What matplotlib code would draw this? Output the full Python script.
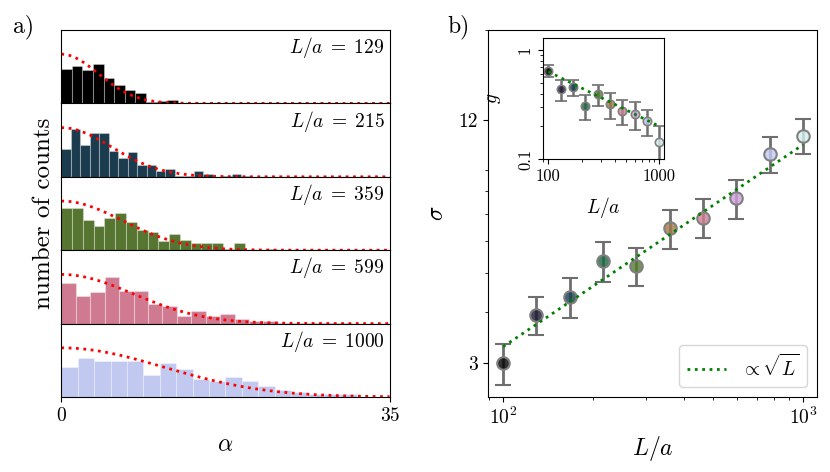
import numpy as np
import matplotlib
matplotlib.use("Agg")
import matplotlib.pyplot as plt
from matplotlib.ticker import NullFormatter

plt.rcParams["font.family"] = "serif"
plt.rcParams["font.serif"] = ["cmr10", "DejaVu Serif"]
plt.rcParams["mathtext.fontset"] = "cm"
plt.rcParams["axes.formatter.use_mathtext"] = True
plt.rcParams["axes.unicode_minus"] = False

# --- right panel data ---
L_vals = np.array([100, 129, 167, 215, 278, 359, 464, 599, 774, 1000])
sigma = np.array([3.00, 3.94, 4.37, 5.36, 5.20, 6.47, 6.87, 7.66, 9.85, 10.95])
sigma_err = np.array([0.35, 0.42, 0.49, 0.60, 0.56, 0.72, 0.76, 0.85, 1.00, 1.10])
g_vals = np.array([0.647, 0.436, 0.456, 0.307, 0.393, 0.318, 0.277, 0.258, 0.224, 0.145])
g_err = np.array([0.085, 0.097, 0.080, 0.078, 0.083, 0.085, 0.072, 0.073, 0.060, 0.055])
sigma_coef = 0.329   # sigma ~ c * sqrt(L)
g_coef = 6.34        # g ~ c / sqrt(L)

# --- left panel histograms (density per bin, bins start at 0) ---
hist_L = [129, 215, 359, 599, 1000]
hist_sigma = [3.94, 5.36, 6.47, 7.66, 10.95]
hist_width = [1.13, 1.01, 1.15, 1.54, 1.75]
hist_129 = [0.141, 0.156, 0.136, 0.161, 0.106, 0.074, 0.054, 0.044, 0.005, 0.008, 0.015]
hist_215 = [0.085, 0.144, 0.095, 0.133, 0.133, 0.079, 0.057, 0.074, 0.036, 0.036,
            0.017, 0.025, 0.003, 0.003, 0.019, 0.008, 0.0, 0.002, 0.008, 0.002]
hist_359 = [0.107, 0.107, 0.075, 0.060, 0.080, 0.093, 0.070, 0.050, 0.045, 0.023,
            0.041, 0.026, 0.017, 0.017, 0.017, 0.003, 0.017, 0.0, 0.0, 0.002]
hist_599 = [0.087, 0.059, 0.066, 0.098, 0.069, 0.069, 0.041, 0.037, 0.016, 0.026,
            0.016, 0.021, 0.009, 0.005, 0.005, 0.001, 0.002, 0.002, 0.002, 0.002]
hist_1000 = [0.045, 0.058, 0.054, 0.054, 0.054, 0.033, 0.051, 0.042, 0.026, 0.023,
             0.030, 0.024, 0.017, 0.011, 0.007, 0.005, 0.005, 0.005]
hist_counts = [hist_129, hist_215, hist_359, hist_599, hist_1000]
hist_colors = ["#000000", "#1b3b4e", "#567530", "#d07a92", "#c1c9f0"]

fig = plt.figure(figsize=(8.3, 4.72), dpi=100)

# ---------- a) histograms ----------
left, width = 61.3 / 830, 328.2 / 830
bottom, top = 1 - 397 / 472, 1 - 30 / 472
h = (top - bottom) / 5
alpha_grid = np.linspace(0, 35, 300)
for i, (Lh, s, w, counts, c) in enumerate(zip(hist_L, hist_sigma, hist_width, hist_counts, hist_colors)):
    ax = fig.add_axes([left, top - (i + 1) * h, width, h])
    edges = np.arange(len(counts)) * w
    ax.bar(edges, counts, width=w, align="edge", color=c,
           edgecolor=(1, 1, 1, 0.3), linewidth=0.8)
    peak = 2 / (s * np.sqrt(2 * np.pi))
    ax.plot(alpha_grid, peak * np.exp(-alpha_grid**2 / (2 * s**2)),
            color="red", linestyle=":", linewidth=2)
    ax.set_xlim(0, 35)
    ax.set_ylim(0, peak / 0.67)
    ax.set_yticks([])
    ax.text(0.985, 0.93, rf"$L/a \;=\; {Lh}$", transform=ax.transAxes,
            ha="right", va="top", fontsize=14)
    if i < 4:
        ax.tick_params(axis="x", bottom=False, labelbottom=False)
    else:
        ax.set_xticks([0, 35])
        ax.set_xticklabels(["0", "35"])
        ax.tick_params(axis="x", labelsize=14)
        ax.set_xlabel(r"$\alpha$", fontsize=17, labelpad=7)

fig.text(44 / 830, 1 - 213.5 / 472, "number of counts", rotation=90,
         ha="center", va="center", fontsize=18)
fig.text(13 / 830, 1 - 32 / 472, "a)", fontsize=17, va="baseline")
fig.text(447 / 830, 1 - 32 / 472, "b)", fontsize=17, va="baseline")

# ---------- b) sigma vs L ----------
colors = plt.cm.cubehelix(np.linspace(0, 0.9, len(L_vals)))
axm = fig.add_axes([488 / 830, bottom, 329 / 830, top - bottom])
axm.set_xscale("log")
axm.set_yscale("log")
axm.plot(L_vals, sigma_coef * np.sqrt(L_vals), color="green", linestyle=":",
         linewidth=2, label=r"$\propto \sqrt{L}$", zorder=3)
for L, s, e, c in zip(L_vals, sigma, sigma_err, colors):
    fc = (c[0], c[1], c[2], 0.8)
    axm.errorbar(L, s, yerr=e, fmt="o", ms=9, mfc=fc, mec="#808080", mew=1.5,
                 ecolor="#6e6e6e", elinewidth=2, capsize=6, capthick=2, zorder=2)
axm.set_xlim(89, 1113)
axm.set_ylim(2.47, 20)
axm.set_yticks([3, 12])
axm.set_yticklabels(["3", "12"])
axm.yaxis.set_minor_formatter(NullFormatter())
axm.xaxis.set_minor_formatter(NullFormatter())
axm.tick_params(labelsize=14)
axm.set_xlabel(r"$L/a$", fontsize=17, labelpad=4)
axm.set_ylabel(r"$\sigma$", fontsize=17, labelpad=8)
axm.legend(loc="lower right", fontsize=14, handlelength=2.0)

# ---------- inset g vs L ----------
axi = fig.add_axes([542.7 / 830, 1 - 159.3 / 472, 121.3 / 830, 121 / 472])
axi.set_xscale("log")
axi.set_yscale("log")
axi.plot(L_vals, g_coef / np.sqrt(L_vals), color="green", linestyle=":",
         linewidth=2, zorder=3)
for L, gv, e, c in zip(L_vals, g_vals, g_err, colors):
    fc = (c[0], c[1], c[2], 0.8)
    axi.errorbar(L, gv, yerr=e, fmt="o", ms=6, mfc=fc, mec="#808080", mew=1.2,
                 ecolor="#6e6e6e", elinewidth=1.8, capsize=4, capthick=1.8, zorder=2)
axi.set_xlim(89, 1102)
axi.set_ylim(0.1, 1.28)
axi.set_xticks([100, 1000])
axi.set_xticklabels(["100", "1000"])
axi.set_yticks([0.1, 1])
axi.set_yticklabels(["0.1", "1"], rotation=90, va="center")
axi.xaxis.set_minor_formatter(NullFormatter())
axi.yaxis.set_minor_formatter(NullFormatter())
axi.tick_params(labelsize=12)
axi.set_xlabel(r"$L/a$", fontsize=14, labelpad=8)
axi.set_ylabel(r"$g$", fontsize=14)
axi.yaxis.set_label_coords(-0.33, 0.5)

fig.savefig("out.png", dpi=100)
